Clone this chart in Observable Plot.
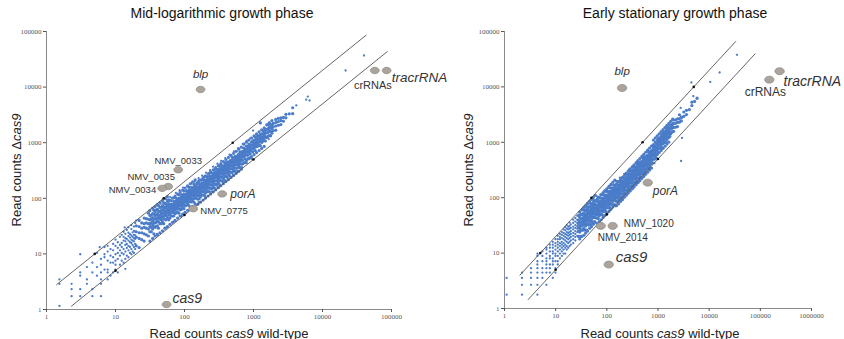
<!DOCTYPE html>
<html><head><meta charset="utf-8">
<script src="https://cdn.jsdelivr.net/npm/d3@7"></script>
<script src="https://cdn.jsdelivr.net/npm/@observablehq/plot@0.6"></script>
<style>
html,body{margin:0;padding:0;background:#fff;}
#wrap{position:relative;width:844px;height:339px;overflow:hidden;font-family:"Liberation Sans",Arial,sans-serif;}
.panel{position:absolute;top:0;}
.title{position:absolute;top:5px;font-size:14px;line-height:17px;color:#111;white-space:nowrap;transform:translateX(-50%);}
</style></head><body><div id="wrap"></div>
<script>
// ---------- titles & tick values ----------
const midTitle = "Mid-logarithmic growth phase";
const statTitle = "Early stationary growth phase";
const yTicks = [1, 10, 100, 1000, 10000, 100000];
const midXTicks = [1, 10, 100, 1000, 10000, 100000];
const statXTicks = [1, 10, 100, 1000, 10000, 100000, 1000000];

// ---------- Mid-log panel: low-count points [wild-type, Δcas9] ----------
const midLow = [
[1.54,3.48],[1.54,2.9],[1.54,1.16],[2.31,2.32],[2.31,1.74],[2.31,2.9],
[3.08,9.86],[3.08,4.64],[3.08,4.06],[3.08,2.32],[3.08,1.74],
[3.85,5.8],[3.85,3.48],[3.85,2.9],[4.62,4.64],[4.62,2.32],[4.62,1.74],[4.62,6.96],
[5.39,10.4],[5.39,5.8],[5.39,4.06],[5.9,13.2],
[6.16,8.12],[6.16,6.38],[6.16,3.48],[6.16,2.9],[6.16,1.74],[6.16,4.64],
[6.93,13.3],[6.93,5.22],[6.93,8.7],[6.93,9.86],
[7.7,5.22],[7.7,7.54],[7.7,11.0],[7.7,4.64],[7.7,3.48],[7.7,14.0],
[8.47,6.96],[8.47,12.2],[8.47,9.28],[8.47,4.06],
[9.24,4.64],[9.24,8.7],[9.24,11.6],[9.24,15.1],[9.24,6.96],
[10.0,5.22],[10.0,6.38],[10.0,9.86],[10.0,13.9],[10.0,18.0],[10.0,7.54],
[10.8,4.64],[10.8,8.12],[10.8,10.4],[10.8,12.8],[10.8,16.2],
[11.6,6.38],[11.6,9.28],[11.6,11.6],[11.6,14.5],[11.6,20.3],
[12.3,7.54],[12.3,10.4],[12.3,13.3],[12.3,15.7],[12.3,22],
[13.1,6.96],[13.1,9.86],[13.1,12.2],[13.1,17.4],[13.1,20.3],[13.1,25],
[13.9,8.12],[13.9,11.0],[13.9,14.5],[13.9,16.8],[13.9,19.1],[13.9,23],[13.9,5.4],[13.6,30.1],
[14.6,9.28],[14.6,12.8],[14.6,15.1],[14.6,18.6],[14.6,27],
[15.4,8.7],[15.4,11.6],[15.4,13.9],[15.4,17.4],[15.4,20.9],[15.4,24],[15.4,30],
[16.2,10.4],[16.2,13.3],[16.2,16.2],[16.2,19.7],[16.2,22.6],
[17.0,9.86],[17.0,12.2],[17.0,15.7],[17.0,18],[17.0,21.5],[17.0,28],[17.0,33],
[17.7,11],[17.7,14.5],[17.7,17.4],[17.7,20.3],[17.7,24.4],
[18.5,10.4],[18.5,13.3],[18.5,16.8],[18.5,19.1],[18.5,22],[18.5,26],[18.5,31],
[19.3,12.2],[19.3,15.1],[19.3,18.6],[19.3,21.5],[19.3,25],[19.3,36],[20,39.7]
];
// Mid-log panel: dense band, [wild-type, [Δcas9 values]]
const midBand = [
[20,[14,20,25,32]],[22,[13,19,24,31,40]],[24,[18,24,29,36]],[26,[17,23,30,35,44]],
[28,[22,29,36,43]],[30,[21,28,35,42,54]],[33,[25,30,36,43,50]],[36,[23,31,36,43,52,61]],
[39,[31,37,43,51,62]],[42,[29,38,44,50,59,74]],[46,[35,41,46,53,60,69]],
[50,[35,43,48,55,63,70,83]],[54,[41,49,54,59,68,78]],[59,[41,50,56,62,71,80,94]],
[64,[48,56,64,70,78,90]],[70,[48,56,64,71,78,88,102]],[76,[55,65,72,80,90,100]],
[83,[54,65,75,83,91,101,116]],[90,[63,74,83,92,104,117]],[98,[65,76,86,96,106,118,135]],
[107,[75,86,96,107,120,137]],[116,[74,87,99,110,122,137,157]],[126,[86,98,111,123,139,158]],
[137,[85,99,112,126,140,156,178]],[150,[99,114,129,144,162,183]],[163,[98,114,130,147,163,183,209]],
[178,[114,132,150,167,187,214]],[194,[113,132,151,171,190,213,243]],[211,[131,152,173,194,217,245]],
[230,[131,154,177,200,223,248,281]],[250,[150,175,200,225,250,285]],[272,[152,180,207,234,261,291,326]],
[296,[178,207,237,266,296,332]],[322,[177,209,238,270,303,338,380]],[351,[204,239,274,309,344,386]],
[382,[210,244,279,313,351,393,439]],[416,[241,283,320,358,399,449]],[453,[254,294,335,376,421,471]],
[493,[296,340,385,429,478,542]],[537,[306,354,403,451,505,564]],[585,[351,410,462,515,573]],
[637,[357,420,478,541,605,688]],[693,[416,485,554,624,693]],[755,[438,513,589,664,747]],
[822,[510,592,674,764,863]],[895,[537,627,716,806,913]],[975,[683,800,926,1073]],
[1060,[721,848,975,1113,1272]],[1155,[866,1016,1155,1328]],[1260,[882,1058,1235,1411,2268]],
[1370,[1069,1233,1425,1644]],[1490,[1073,1281,1490,1714]],[1620,[1296,1539,1782,2106]],
[1770,[1328,1593,1859,2124]],[1930,[1641,1930,2220]],[2100,[1680,1995,2310,2625]],
[2290,[2061,2405,2748]],[2490,[2117,2490,2789]],[2710,[2439,2846]],[2950,[2803,3245]],
[3300,[3300]],[3700,[3330,4255]]
];
const midBandB = [
[31.5,[17,25,31,35,41,49,60]],[34.5,[19,28,33,39,45,53,66]],[37.5,[21,30,36,42,49,58,71]],
[40.5,[22,32,39,45,53,63,77]],[44,[24,35,43,49,57,68,84]],[48,[26,38,47,54,62,74,91]],
[52,[29,42,50,58,68,81,99]],[56.5,[31,45,55,63,73,88,107]],[61.5,[34,44,51,57,64,71,92]],
[67,[37,48,56,62,70,78,101]],[73,[40,53,61,68,76,85,110]],[79.5,[44,57,66,74,83,92,119]],
[86.5,[48,62,72,80,90,100,130]],[94,[52,68,78,87,98,109,141]],[102,[56,73,85,95,106,118,153]],
[111,[61,80,92,103,115,129,167]],[121,[67,87,100,113,126,140,182]],[131,[72,94,109,122,136,152,197]],
[143,[79,103,119,133,149,166,215]],[156,[78,97,112,128,144,159,195]],[170,[85,105,122,139,156,173,213]],
[186,[93,115,134,153,171,190,233]],[202,[101,125,145,166,186,206,253]],[220,[110,136,158,180,202,224,275]],
[240,[120,149,173,197,221,245,300]],[261,[131,162,188,214,240,266,326]],[284,[142,176,204,233,261,290,355]],
[309,[155,192,222,253,284,315,386]],[336,[168,208,242,276,309,343,420]],[366,[183,227,264,300,337,373,458]],
[399,[200,247,287,327,367,407,499]],[434,[217,269,312,356,399,443,543]],[473,[237,293,341,388,435,482,591]],
[515,[258,319,371,422,474,525,644]],[561,[281,348,404,460,516,572,701]],[611,[306,379,440,501,562,623,764]],
[665,[333,412,479,545,612,678,831]],[724,[434,557,630,702,796,941]],[788,[473,607,686,764,867,1024]],
[858,[515,661,746,832,944,1115]],[935,[561,720,813,907,1029,1216]],[1017,[610,783,885,986,1119,1322]],
[1107,[664,852,963,1074,1218,1439]],[1207,[724,929,1050,1171,1328,1569]],[1315,[789,1013,1144,1276,1447,1710]],
[1430,[858,1101,1244,1387,1573,1859]],[1555,[1244,1508,1742,2099]],[1695,[1356,1644,1898,2288]],
[1850,[1480,1795,2072,2498]]
];
// loose points along the edges of the band and beyond it
const midOutliers = [
[1240,2290],[1660,1780],[1750,1960],[2180,2320],[2460,2690],[2760,2850],[2320,2050],
[1660,1160],[1530,1220],[985,1650],[4170,4680],[6120,6760],[6500,5740],[5800,5950],
[21600,19900],[40000,37000],
[45,80],[55,95],[62,105],[75,125],[85,140],[95,155],[110,165],[125,185],[140,200],[160,230],
[180,255],[205,290],[235,320],[260,370],[300,420],[340,470],[390,530],[450,610],[520,700],
[600,800],[700,950],[800,1080],[900,1200],
[40,23],[55,30],[70,38],[90,48],[160,85],[200,108],[250,133],[300,160],[360,195],[420,225],
[500,270],[580,310],[680,365],[800,430],[950,510]
];
const midGuideHigh = [[1.4, 2.8], [43000, 86000]];   // Δcas9 = 2 × wild-type
const midGuideLow = [[2.3, 1.15], [87000, 43500]];   // Δcas9 = wild-type / 2
const midGuideDots = [[5,10],[50,100],[500,1000],[10,5],[100,50],[1000,500]];
const midGeneNames = ["blp","crRNAs","tracrRNA","NMV_0033","NMV_0035","NMV_0034","porA","NMV_0775","cas9"];
const midGeneWT =    [171, 57300, 85000, 81, 58, 47.5, 352, 134, 55];
const midGeneDelta = [9060, 19900, 19900, 326, 163, 151, 120, 65, 1.23];

// ---------- Early stationary panel ----------
const statLow = [
[1.1,3.56],[1.1,1.78],[2.2,4.45],[2.2,3.56],[2.2,2.67],[2.2,1.78],
[3.3,5.34],[3.3,4.45],[3.3,3.56],[3.3,2.67],
[4.4,9.8],[4.4,8.9],[4.4,7.12],[4.4,6.23],[4.4,5.34],[4.4,4.45],[4.4,3.56],[4.4,2.67],[4.4,1.78],
[5.5,10.7],[5.5,8.9],[5.5,7.12],[5.5,5.34],[5.5,4.45],[5.5,3.56],
[6.6,12.5],[6.6,11.6],[6.6,9.8],[6.6,8.01],[6.6,7.12],[6.6,6.23],[6.6,5.34],[6.6,4.45],[6.6,2.67],
[7.7,14.2],[7.7,12.5],[7.7,10.7],[7.7,8.9],[7.7,8.01],[7.7,6.23],[7.7,5.34],[7.7,4.45],
[8.8,16],[8.8,14.2],[8.8,12.5],[8.8,10.7],[8.8,9.8],[8.8,8.01],[8.8,7.12],[8.8,6.23],[8.8,3.56],
[9.9,17.8],[9.9,15.1],[9.9,13.4],[9.9,11.6],[9.9,9.8],[9.9,8.9],[9.9,7.12],[9.9,5.34],[9.9,4.45],
[11,20.5],[11,17.8],[11,16],[11,14.2],[11,12.5],[11,10.7],[11,8.9],[11,7.12],[11,6.23],
[12.1,22.2],[12.1,19.6],[12.1,17.8],[12.1,15.1],[12.1,13.4],[12.1,11.6],[12.1,9.8],[12.1,8.01],
[13.2,24],[13.2,21.4],[13.2,18.7],[13.2,16],[13.2,14.2],[13.2,12.5],[13.2,10.7],[13.2,8.9],
[14.3,26.7],[14.3,23.1],[14.3,20.5],[14.3,17.8],[14.3,15.1],[14.3,13.4],[14.3,11.6],[14.3,9.8],
[15.4,29.4],[15.4,25.8],[15.4,22.2],[15.4,19.6],[15.4,16.9],[15.4,14.2],[15.4,12.5],[15.4,9.8],
[16.5,32],[16.5,27.6],[16.5,24],[16.5,21.4],[16.5,18.7],[16.5,16],[16.5,13.4],[16.5,11.6],
[17.6,30],[17.6,26.7],[17.6,23.1],[17.6,20.5],[17.6,17.8],[17.6,15.1],[17.6,12.5],
[18.7,35.6],[18.7,31],[18.7,27.6],[18.7,24],[18.7,21.4],[18.7,18.7],[18.7,16],[18.7,13.4],
[19.8,33],[19.8,28.5],[19.8,25],[19.8,22.2],[19.8,19.6],[19.8,16.9],[19.8,14.2],
[22,40],[22,35],[22,30],[22,26.7],[22,23.1],[22,20.5],[22,17.8],[22,15.1],
[24.2,43],[24.2,37],[24.2,32],[24.2,28.5],[24.2,25],[24.2,22.2],[24.2,19.6],[24.2,16.9],
[26.4,47],[26.4,40],[26.4,35],[26.4,31],[26.4,27.6],[26.4,24],[26.4,20.5]
];
const statBand = [
[28,[20,25,29,34,39,48]],[31,[20,26,31,36,42,50]],[34,[26,32,37,43,51,61]],[37,[26,33,38,44,50,59]],
[40,[26,33,39,45,51,60,70]],[44,[32,39,44,51,57,68]],[48,[33,39,46,52,59,67,79]],[52,[36,44,51,57,65,75]],
[57,[37,44,51,58,66,74,88]],[62,[43,51,58,65,73,86]],[68,[42,51,59,67,75,85,99]],[74,[50,59,68,76,86,98]],
[81,[49,58,68,77,86,97,113]],[88,[57,68,77,87,99,113]],[96,[56,67,78,88,99,111,130]],
[105,[66,78,89,101,113,130]],[115,[66,78,91,104,115,129,150]],[125,[75,89,103,116,131,150]],
[137,[75,90,104,118,133,149,171]],[150,[87,102,117,134,150,171]],[163,[86,103,119,135,153,171,196]],
[178,[100,117,135,153,173,196]],[194,[101,118,138,157,177,198,225]],[212,[117,136,157,178,201,229]],
[231,[118,139,159,182,206,231,261]],[252,[136,159,181,207,232,265]],[275,[138,162,187,212,239,270,303]],
[300,[159,186,213,240,270,306]],[327,[164,190,219,249,278,311,353]],[357,[186,218,250,282,314,357]],
[389,[195,226,257,292,327,366,412]],[424,[225,263,301,339,382,432]],[463,[232,269,306,347,394,444]],
[505,[273,318,364,409,460,520]],[550,[286,330,380,429,484,545]],[600,[336,390,444,498,564]],
[655,[347,406,465,524,590,668]],[714,[407,471,536,607,685]],[779,[428,499,569,647,732]],
[850,[493,578,663,748,850]],[927,[519,612,705,806]],[1010,[657,788,909,1030,1162]],
[1100,[770,902,1045,1188]],[1200,[792,960,1104,1260,1440]],[1310,[983,1153,1310,1507]],
[1430,[1001,1201,1401,1602,1859]],[1560,[1217,1435,1654,1872]],[1700,[1275,1530,1768,2074]],
[1850,[1517,1776,2035]],[2020,[1576,1858,2182,2525]],[2200,[1870,2200,2530]],[2400,[1920,2280,2640]],
[2620,[2306,2672,3144]],[2860,[2431,2860]],[3200,[2944,3520]],[3600,[3168,3780]],[4100,[3895]],
[4600,[4600,5290]],[5200,[5460]],[5800,[6264]]
];
const statBandB = [
[29.5,[18,24,28,32,37,44,55]],[32.5,[20,26,31,36,41,49,60]],[35.5,[21,28,34,39,45,53,66]],
[38.5,[23,31,37,42,49,58,71]],[42,[25,34,40,46,53,63,78]],[46,[28,37,44,51,58,69,85]],
[50,[30,40,48,55,64,75,93]],[54.5,[33,44,52,60,69,82,101]],[59.5,[36,48,57,65,76,89,110]],
[65,[34,43,49,56,63,72,94]],[71,[37,47,54,61,69,78,103]],[77.5,[40,51,59,67,75,85,112]],
[84.5,[44,56,64,73,82,93,123]],[92,[48,61,70,79,89,101,133]],[100,[52,66,76,86,97,110,145]],
[110,[57,73,84,95,107,121,160]],[120,[62,79,91,103,116,132,174]],[131,[68,86,100,113,127,144,190]],
[143,[74,94,109,123,139,157,207]],[156,[72,87,101,115,129,145,179]],[170,[78,95,111,126,141,158,196]],
[186,[86,104,121,138,154,173,214]],[203,[93,114,132,150,168,189,233]],[221,[102,124,144,164,183,206,254]],
[241,[111,135,157,178,200,224,277]],[263,[121,147,171,195,218,245,302]],[287,[132,161,187,212,238,267,330]],
[313,[144,175,203,232,260,291,360]],[342,[157,192,222,253,284,318,393]],[373,[172,209,242,276,310,347,429]],
[406,[187,227,264,300,337,378,467]],[443,[204,248,288,328,368,412,509]],[484,[223,271,315,358,402,450,557]],
[527,[242,295,343,390,437,490,606]],[575,[265,322,374,426,477,535,661]],[627,[288,351,408,464,520,583,721]],
[684,[315,383,445,506,568,636,787]],[746,[343,418,485,552,619,694,858]],[814,[505,611,700,798,912,1099]],
[888,[551,666,764,870,995,1199]],[968,[600,726,832,949,1084,1307]],[1055,[654,791,907,1034,1182,1424]],
[1150,[713,863,989,1127,1288,1553]],[1255,[778,941,1079,1230,1406,1694]],[1370,[849,1028,1178,1343,1534,1850]],
[1495,[927,1121,1286,1465,1674,2018]],[1630,[1011,1223,1402,1597,1826,2201]],[1775,[1420,1722,1988,2396]],
[1935,[1548,1877,2167,2612]]
];
const statOutliers = [
[2830,460],[35000,38000],[16000,18200],[10500,12300],[4500,12000],[5800,6150],[4900,6800],
[2770,4170],[2950,2750],[1280,1600],[2950,1200],[2770,2420],
[40,65],[48,80],[55,90],[65,105],[75,115],[90,135],[105,150],[125,170],[150,200],[180,230],
[220,270],[270,320],[330,380],[400,450],[500,560],[620,680],[760,850],
[150,70],[200,92],[260,120],[330,150],[420,192],[540,250],[680,320],[850,420]
];
const statGuideHigh = [[2.0, 4.0], [33000, 66000]];
const statGuideLow = [[2.9, 1.45], [79000, 39500]];
const statGuideDots = [[5,10],[50,100],[500,1000],[5000,10000],[10,5],[100,50],[1000,500]];
const statGeneNames = ["blp","crRNAs","tracrRNA","porA","NMV_1020","NMV_2014","cas9"];
const statGeneWT =    [199, 150000, 238000, 630, 130, 76, 109];
const statGeneDelta = [9560, 13500, 19200, 187, 31, 31, 6.2];

// ---------- styling (kept apart from the data) ----------
const BLUE = "#4a7cc9";
const GENE_FILL = "#aaa49d", GENE_STROKE = "#8c857e";
const midLabelStyle = {
  blp:{dx:0,dy:-15,anchor:"middle",size:11.5,italic:true},
  crRNAs:{dx:-2,dy:15,anchor:"middle",size:11,italic:false},
  tracrRNA:{dx:5,dy:7,anchor:"start",size:13.5,italic:true},
  NMV_0033:{dx:0,dy:-9,anchor:"middle",size:9.5,italic:false},
  NMV_0035:{dx:-17,dy:-10,anchor:"middle",size:9.5,italic:false},
  NMV_0034:{dx:-6,dy:2,anchor:"end",size:9.5,italic:false},
  porA:{dx:8,dy:0,anchor:"start",size:12,italic:true},
  NMV_0775:{dx:7,dy:2,anchor:"start",size:9.5,italic:false},
  cas9:{dx:6,dy:-6,anchor:"start",size:14,italic:true}
};
const statLabelStyle = {
  blp:{dx:0,dy:-17,anchor:"middle",size:11.5,italic:true},
  crRNAs:{dx:-4,dy:12,anchor:"middle",size:12,italic:false},
  tracrRNA:{dx:4,dy:10,anchor:"start",size:14,italic:true},
  porA:{dx:5,dy:9,anchor:"start",size:12,italic:true},
  NMV_1020:{dx:11,dy:-2,anchor:"start",size:10,italic:false},
  NMV_2014:{dx:22,dy:12,anchor:"middle",size:10,italic:false},
  cas9:{dx:7,dy:-7,anchor:"start",size:15,italic:true}
};

function ellipseSymbol(rx, ry) {
  const k = 0.5523;
  return {draw(ctx) {
    ctx.moveTo(rx, 0);
    ctx.bezierCurveTo(rx, k*ry, k*rx, ry, 0, ry);
    ctx.bezierCurveTo(-k*rx, ry, -rx, k*ry, -rx, 0);
    ctx.bezierCurveTo(-rx, -k*ry, -k*rx, -ry, 0, -ry);
    ctx.bezierCurveTo(k*rx, -ry, rx, -k*ry, rx, 0);
    ctx.closePath();
  }};
}

function panel(o) {
  const sparse = [], dense = [];
  for (const [x, y] of o.low) sparse.push({x, y});
  for (const band of o.bands) for (const [x, ys] of band) for (const y of ys) dense.push({x, y});
  for (const [x, y] of o.outliers) sparse.push({x, y});
  const genes = o.names.map((g, i) => ({gene: g, x: o.wt[i], y: o.delta[i]}));
  const guideH = o.guideHigh.map(([x, y]) => ({x, y}));
  const guideL = o.guideLow.map(([x, y]) => ({x, y}));
  const gdots = o.guideDots.map(([x, y]) => ({x, y}));
  const labelMarks = genes.map(g => {
    const s = o.style[g.gene];
    return Plot.text([g], {x: "x", y: "y", text: "gene", dx: s.dx, dy: s.dy, textAnchor: s.anchor,
      fontSize: s.size, fontStyle: s.italic ? "italic" : "normal", fill: "#333"});
  });
  const fmt = d => String(d);
  const svg = Plot.plot({
    width: o.width, height: 339,
    marginLeft: o.ml, marginRight: o.mr, marginTop: 31, marginBottom: o.mb,
    style: {fontFamily: "'Liberation Sans', Arial, sans-serif", background: "transparent", overflow: "visible"},
    x: {type: "log", domain: o.xDomain},
    y: {type: "log", domain: [1, 100000]},
    marks: [
      Plot.ruleX([1], {stroke: "#8a8a8a", strokeWidth: 1}),
      Plot.ruleY([1], {stroke: "#8a8a8a", strokeWidth: 1}),
      Plot.axisX({ticks: o.xTicks, tickFormat: fmt, tickSize: 3, tickPadding: 2, label: null,
        fontSize: 7, fontFamily: "'Liberation Serif', serif", color: "#555"}),
      Plot.axisY({ticks: yTicks, tickFormat: fmt, tickSize: 3, tickPadding: 2, label: null,
        fontSize: 7, fontFamily: "'Liberation Serif', serif", color: "#555"}),
      Plot.dot(dense, {x: "x", y: "y", r: 1.6, fill: BLUE, stroke: null}),
      Plot.dot(sparse, {x: "x", y: "y", r: 1.15, fill: BLUE, stroke: null}),
      Plot.line(guideH, {x: "x", y: "y", stroke: "#555", strokeWidth: 0.9}),
      Plot.line(guideL, {x: "x", y: "y", stroke: "#555", strokeWidth: 0.9}),
      Plot.dot(gdots, {x: "x", y: "y", r: 1.3, fill: "#111", stroke: null}),
      Plot.dot(genes, {x: "x", y: "y", symbol: ellipseSymbol(o.rx, o.ry), fill: GENE_FILL, stroke: GENE_STROKE, strokeWidth: 0.7}),
      ...labelMarks
    ]
  });
  const s = d3.select(svg);
  const yl = s.append("text").attr("transform", `translate(${o.ylx},170) rotate(-90)`)
    .attr("text-anchor", "middle").attr("dominant-baseline", "central")
    .attr("font-size", 13).attr("fill", "#222");
  yl.append("tspan").text("Read counts Δ");
  yl.append("tspan").attr("font-style", "italic").text("cas9");
  const xl = s.append("text").attr("x", o.xlx).attr("y", 337.5)
    .attr("text-anchor", "middle").attr("font-size", 13).attr("fill", "#222");
  xl.append("tspan").text("Read counts ");
  xl.append("tspan").attr("font-style", "italic").text("cas9");
  xl.append("tspan").text(" wild-type");
  return svg;
}

const wrap = document.getElementById("wrap");
const left = panel({width: 422, ml: 46, mr: 31, mb: 30, xDomain: [1, 100000], xTicks: midXTicks,
  low: midLow, bands: [midBand, midBandB], outliers: midOutliers, guideHigh: midGuideHigh, guideLow: midGuideLow,
  guideDots: midGuideDots, names: midGeneNames, wt: midGeneWT, delta: midGeneDelta, style: midLabelStyle,
  rx: 4.4, ry: 3.2, ylx: 16, xlx: 229});
const right = panel({width: 422, ml: 82, mr: 33, mb: 31, xDomain: [1, 1000000], xTicks: statXTicks,
  low: statLow, bands: [statBand, statBandB], outliers: statOutliers, guideHigh: statGuideHigh, guideLow: statGuideLow,
  guideDots: statGuideDots, names: statGeneNames, wt: statGeneWT, delta: statGeneDelta, style: statLabelStyle,
  rx: 4.7, ry: 3.5, ylx: 46, xlx: 238});
const d1 = document.createElement("div"); d1.className = "panel"; d1.style.left = "0px"; d1.appendChild(left);
const d2 = document.createElement("div"); d2.className = "panel"; d2.style.left = "422px"; d2.appendChild(right);
wrap.appendChild(d1); wrap.appendChild(d2);
const t1 = document.createElement("div"); t1.className = "title"; t1.style.left = "222px"; t1.textContent = midTitle;
const t2 = document.createElement("div"); t2.className = "title"; t2.style.left = "675px"; t2.textContent = statTitle;
wrap.appendChild(t1); wrap.appendChild(t2);
</script></body></html>
